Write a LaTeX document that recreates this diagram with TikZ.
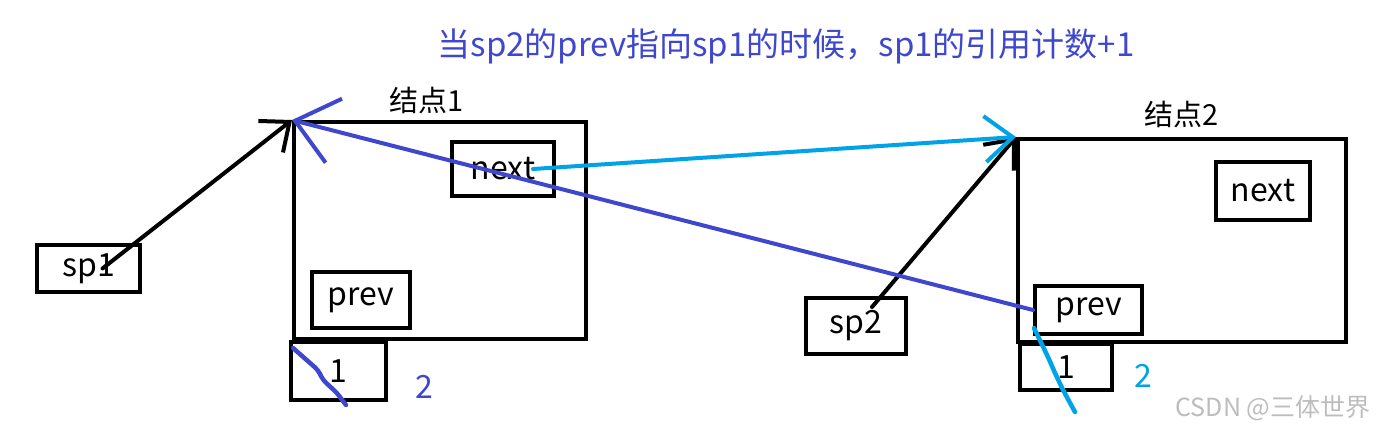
\documentclass[tikz,border=0pt]{standalone}
\usepackage{fontspec}
\setmainfont{Noto Sans CJK SC}
\usetikzlibrary{arrows.meta}
\definecolor{indigoc}{HTML}{3F48CC}
\definecolor{cyanc}{HTML}{00A2E8}
\definecolor{markc}{HTML}{BDBDBD}

\begin{document}
\begin{tikzpicture}[x=1pt,y=-1pt,line width=4pt,
  box/.style={draw,anchor=north west,inner sep=0pt,font=\fontsize{32}{34}\selectfont},
  arr/.style={-{Straight Barb[length=24pt,width=40pt]},line cap=round},
  strike/.style={line width=4.5pt,line cap=round,rounded corners=4pt}]
  \useasboundingbox (0,0) rectangle (1380,432);
  % boxes: name / x / y / width / height / text
  \foreach \n/\x/\y/\w/\h/\t in {node1/292/120/292/217/{},next1/450/140/102/54/next,prev1/310/270/98/56/prev,cnt1/289/340/95/58/1,sp1/35/243/103/47/sp1,
    node2/1016/137/328/203/{},next2/1214/160/94/58/next,prev2/1033/284/107/48/prev,cnt2/1018/342/92/46/1,sp2/804/296/100/56/sp2}
    {\node[box,minimum width=\w pt,minimum height=\h pt] (\n) at (\x,\y) {\t};}
  \node[font=\fontsize{29}{30}\selectfont] (lab1) at (427,100) {结点1};
  \node[font=\fontsize{29}{30}\selectfont] (lab2) at (1182,114) {结点2};
  \node[indigoc,font=\fontsize{33}{36}\selectfont] (title) at (786,46) {当sp2的prev指向sp1的时候，sp1的引用计数+1};
  \node[indigoc,font=\fontsize{32}{34}\selectfont] (two1) at (424,387) {2};
  \node[cyanc,font=\fontsize{32}{34}\selectfont] (two2) at (1143,376) {2};
  \node[markc,font=\fontsize{25}{28}\selectfont] (mark) at (1273,408) {CSDN @三体世界};
  % pointers
  \draw[arr] ([xshift=14pt]sp1.center) -- (node1.north west);
  \draw[arr] ([xshift=16pt,yshift=19pt]sp2.center) -- (node2.north west);
  \draw[arr,cyanc,-{Straight Barb[length=28pt,width=46pt]}] ([xshift=30pt]next1.center) -- (node2.north west);
  \draw[arr,indigoc,-{Straight Barb[length=40pt,width=66pt]}] (prev2.west) -- (node1.north west);
  % crossed-out counts
  \draw[strike,indigoc] (293,348) -- (318,370) -- (323,380) -- (337,393) -- (346,405);
  \draw[strike,cyanc] (1034,328) -- (1048,357) -- (1055,373) -- (1063,390) -- (1075,412);
\end{tikzpicture}
\end{document}
